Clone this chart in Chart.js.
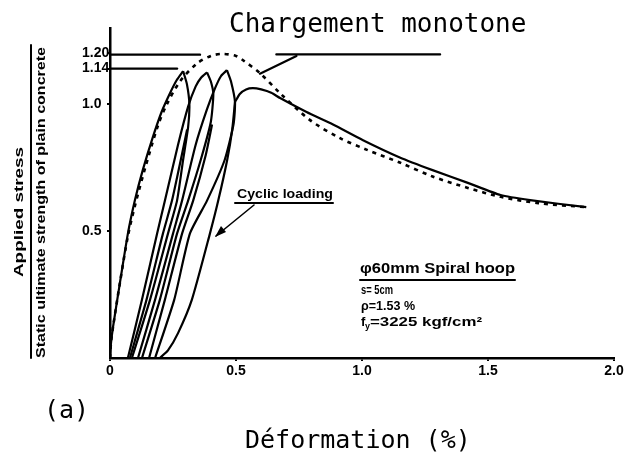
<!DOCTYPE html>
<html><head><meta charset="utf-8">
<script src="https://cdn.jsdelivr.net/npm/chart.js@4"></script>
<style>html,body{margin:0;padding:0;background:#fff}#wrap{width:633px;height:461px}</style>
</head><body><div id="wrap"><canvas id="c" width="633" height="461"></canvas></div>
<script>
// ---- data (strain %, applied stress / static strength) ----
const monoX = [0, 0.004, 0.012, 0.04, 0.071, 0.099, 0.14, 0.19, 0.226, 0.278, 0.345, 0.40, 0.448, 0.50, 0.528, 0.595, 0.675, 0.794, 0.913, 1.02, 1.15, 1.28, 1.42, 1.55, 1.70, 1.89];
const monoY = [0, 0.06, 0.122, 0.30, 0.48, 0.60, 0.75, 0.915, 1.00, 1.09, 1.16, 1.19, 1.198, 1.19, 1.173, 1.122, 1.043, 0.937, 0.866, 0.82, 0.77, 0.715, 0.67, 0.635, 0.61, 0.594];

const loadX = [0, 0.004, 0.012, 0.04, 0.071, 0.099, 0.13, 0.17, 0.205, 0.238, 0.265, 0.29];
const loadY = [0, 0.06, 0.122, 0.30, 0.49, 0.622, 0.74, 0.87, 0.97, 1.043, 1.095, 1.13];

const unload1X = [0.29, 0.305, 0.315, 0.31, 0.29, 0.266, 0.23, 0.159, 0.087];
const unload1Y = [1.13, 1.08, 1.00, 0.91, 0.78, 0.62, 0.49, 0.23, 0];
const reload1X = [0.071, 0.127, 0.187, 0.218, 0.27, 0.31, 0.34, 0.362, 0.385];
const reload1Y = [0, 0.23, 0.49, 0.62, 0.84, 0.99, 1.07, 1.105, 1.125];
const reload1bX = [0.079, 0.145, 0.21, 0.246, 0.285, 0.306];
const reload1bY = [0, 0.23, 0.49, 0.62, 0.80, 0.90];

const unload2X = [0.385, 0.40, 0.41, 0.40, 0.36, 0.31, 0.266, 0.198, 0.127];
const unload2Y = [1.125, 1.09, 1.04, 0.93, 0.78, 0.62, 0.49, 0.23, 0];
const reload2X = [0.111, 0.179, 0.25, 0.286, 0.34, 0.385, 0.417, 0.44, 0.464];
const reload2Y = [0, 0.23, 0.49, 0.62, 0.84, 0.98, 1.063, 1.11, 1.134];
const reload2bX = [0.155, 0.218, 0.286, 0.33, 0.38, 0.405];
const reload2bY = [0, 0.23, 0.49, 0.62, 0.80, 0.92];

const unload3X = [0.464, 0.48, 0.496, 0.49, 0.455, 0.385, 0.317, 0.255, 0.179];
const unload3Y = [1.134, 1.09, 1.008, 0.92, 0.78, 0.62, 0.49, 0.23, 0];
const reload3X = [0.198, 0.23, 0.27, 0.325, 0.397, 0.43, 0.465, 0.485, 0.496];
const reload3Y = [0, 0.03, 0.098, 0.23, 0.492, 0.622, 0.78, 0.90, 1.008];

const envX = [0.496, 0.515, 0.54, 0.567, 0.60, 0.64, 0.675, 0.78, 0.885, 1.004, 1.15, 1.28, 1.42, 1.55, 1.667, 1.89];
const envY = [1.008, 1.04, 1.058, 1.063, 1.058, 1.045, 1.024, 0.969, 0.92, 0.858, 0.79, 0.74, 0.69, 0.642, 0.622, 0.594];

const xTicks = [0, 0.5, 1.0, 1.5, 2.0];
const xTickLabels = ["0", "0.5", "1.0", "1.5", "2.0"];
const yTicks = [0.5, 1.0, 1.14, 1.20];
const yTickLabels = ["0.5", "1.0", "1.14", "1.20"];

const pts = (xs, ys) => xs.map((x, i) => ({x: x, y: ys[i]}));
const solid = (xs, ys) => ({data: pts(xs, ys), borderColor: '#000', borderWidth: 2.2, pointRadius: 0, tension: 0.2, fill: false});

const datasets = [
  {data: pts(monoX, monoY), borderColor: '#000', borderWidth: 2.6, borderDash: [4, 5], pointRadius: 0, tension: 0.3, fill: false},
  solid(loadX, loadY),
  solid(unload1X, unload1Y), solid(reload1X, reload1Y), solid(reload1bX, reload1bY),
  solid(unload2X, unload2Y), solid(reload2X, reload2Y), solid(reload2bX, reload2bY),
  solid(unload3X, unload3Y), solid(reload3X, reload3Y),
  solid(envX, envY)
];

const NARROW = "'Liberation Sans Narrow', 'Liberation Sans', Arial, sans-serif";
const tickFont = {family: NARROW, size: 14, weight: 'bold'};

// draw text at a given font size, stretched/compressed horizontally to a target width
function stretchText(ctx, text, x, y, width, size, weight, family) {
  ctx.font = weight + ' ' + size + 'px ' + family;
  const w = ctx.measureText(text).width;
  ctx.save();
  ctx.translate(x, y);
  ctx.scale(width / w, 1);
  ctx.fillText(text, 0, 0);
  ctx.restore();
}

const deco = {
  id: 'deco',
  afterDraw(chart) {
    const ctx = chart.ctx, xs = chart.scales.x, ys = chart.scales.y;
    const X = v => xs.getPixelForValue(v), Y = v => ys.getPixelForValue(v);
    ctx.save();
    ctx.strokeStyle = '#000'; ctx.fillStyle = '#000'; ctx.lineCap = 'round';
    // leader lines for 1.20 and 1.14
    ctx.lineWidth = 2.4;
    ctx.beginPath(); ctx.moveTo(X(0), Y(1.195)); ctx.lineTo(X(0.357), Y(1.195)); ctx.stroke();
    ctx.beginPath(); ctx.moveTo(X(0), Y(1.14)); ctx.lineTo(X(0.266), Y(1.14)); ctx.stroke();
    // monotone label leader
    ctx.lineWidth = 2.2;
    ctx.beginPath(); ctx.moveTo(X(0.66), Y(1.196)); ctx.lineTo(X(1.31), Y(1.196)); ctx.stroke();
    ctx.beginPath(); ctx.moveTo(X(0.74), Y(1.19)); ctx.lineTo(X(0.595), Y(1.12)); ctx.stroke();
    // cyclic loading label & arrow
    ctx.textAlign = 'left'; ctx.textBaseline = 'alphabetic';
    stretchText(ctx, 'Cyclic loading', 237, 198, 96, 13, 'bold', NARROW);
    ctx.lineWidth = 2;
    ctx.beginPath(); ctx.moveTo(235, 203); ctx.lineTo(333, 203); ctx.stroke();
    ctx.lineWidth = 1.6;
    ctx.beginPath(); ctx.moveTo(254, 205); ctx.lineTo(216, 236); ctx.stroke();
    ctx.beginPath(); ctx.moveTo(215, 237); ctx.lineTo(221, 226); ctx.lineTo(226, 232); ctx.closePath(); ctx.fill();
    // specimen box
    stretchText(ctx, '\u03C660mm Spiral hoop', 360, 273, 155, 14, 'bold', NARROW);
    ctx.lineWidth = 2;
    ctx.beginPath(); ctx.moveTo(360, 280); ctx.lineTo(515, 280); ctx.stroke();
    stretchText(ctx, 's= 5cm', 361, 294, 32, 13, 'bold', NARROW);
    stretchText(ctx, '\u03C1=1.53 %', 361, 310, 54, 13, 'bold', NARROW);
    ctx.font = "bold 13px " + NARROW;
    ctx.fillText('f', 361, 326);
    ctx.font = "bold 9px " + NARROW;
    ctx.fillText('y', 365, 329);
    stretchText(ctx, '=3225 kgf/cm\u00B2', 370, 326, 112, 13, 'bold', NARROW);
    // titles
    ctx.font = "26px 'DejaVu Sans Mono', monospace";
    ctx.fillText('Chargement monotone', 229, 32);
    ctx.font = "25px 'DejaVu Sans Mono', monospace";
    ctx.fillText('(a)', 44, 418);
    ctx.fillText('D\u00E9formation (%)', 245, 448);
    // y-axis title (fraction)
    ctx.save();
    ctx.translate(23, 277); ctx.rotate(-Math.PI / 2);
    stretchText(ctx, 'Applied stress', 0, 0, 130, 13, 'bold', "'Liberation Sans', Arial, sans-serif");
    ctx.restore();
    ctx.lineWidth = 2;
    ctx.beginPath(); ctx.moveTo(31, 45); ctx.lineTo(31, 358); ctx.stroke();
    ctx.save();
    ctx.translate(45, 358); ctx.rotate(-Math.PI / 2);
    stretchText(ctx, 'Static ultimate strength of plain concrete', 0, 0, 311, 13, 'bold', NARROW);
    ctx.restore();
    ctx.restore();
  }
};

new Chart(document.getElementById('c'), {
  type: 'line',
  data: {datasets: datasets},
  options: {
    responsive: false, animation: false, events: [],
    layout: {padding: {left: 82, right: 19, top: 28, bottom: 0}},
    plugins: {legend: {display: false}, tooltip: {enabled: false}, title: {display: false}},
    scales: {
      x: {
        type: 'linear', min: 0, max: 2.0,
        afterFit: s => { s.height = 103; },
        afterBuildTicks: s => { s.ticks = xTicks.map(v => ({value: v})); },
        border: {display: true, color: '#000', width: 2.5},
        grid: {display: true, drawOnChartArea: false, drawTicks: true, tickLength: 3, color: '#000', lineWidth: 2},
        ticks: {color: '#000', font: tickFont, padding: 2, maxRotation: 0,
          callback: (v) => { const i = xTicks.indexOf(v); return i >= 0 ? xTickLabels[i] : ''; }}
      },
      y: {
        type: 'linear', min: 0, max: 1.3,
        afterFit: s => { s.width = 28; },
        afterBuildTicks: s => { s.ticks = yTicks.map(v => ({value: v})); },
        border: {display: true, color: '#000', width: 2.5},
        grid: {display: true, drawOnChartArea: false, drawTicks: true, tickLength: 3, color: '#000', lineWidth: 2},
        ticks: {color: '#000', font: tickFont, padding: 2, crossAlign: 'far',
          callback: (v) => { const i = yTicks.indexOf(v); return i >= 0 ? yTickLabels[i] : ''; }}
      }
    }
  },
  plugins: [deco]
});
</script>
</body></html>
